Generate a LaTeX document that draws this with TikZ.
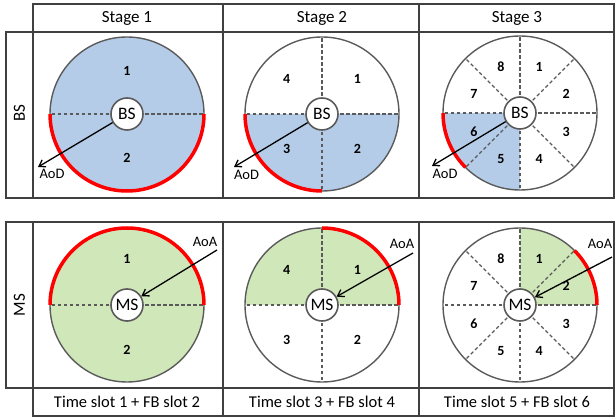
\documentclass[tikz,border=0pt]{standalone}
\usepackage{fontspec}
\setmainfont{Carlito}
\usetikzlibrary{arrows.meta,calc}
\definecolor{bsblue}{HTML}{B4CCE8}
\definecolor{msgreen}{HTML}{D0E7B9}
\definecolor{rimgray}{HTML}{5A5A5A}
\definecolor{gridgray}{HTML}{404040}
\tikzset{
  rim/.style={draw=rimgray, line width=1.4pt},
  sep/.style={draw=rimgray, line width=1.1pt, dash pattern=on 3.5pt off 2.5pt},
  hot/.style={draw=red, line width=3.5pt},
  hub/.style={circle, draw=rimgray, line width=1.6pt, fill=white, minimum size=32pt, inner sep=0pt, font=\fontsize{17.5}{17.5}\selectfont},
  num/.style={font=\bfseries\fontsize{14}{14}\selectfont},
  lbl/.style={font=\fontsize{14.5}{14.5}\selectfont},
  head/.style={font=\fontsize{17}{17}\selectfont},
  foot/.style={font=\fontsize{16.5}{16.5}\selectfont},
  ray/.style={line width=1.3pt, -{Straight Barb[length=6pt,width=8pt]}},
  grid/.style={draw=gridgray, line width=1.3pt},
}
\begin{document}
\begin{tikzpicture}[x=1pt,y=-1pt]
\useasboundingbox (0,0) rectangle (616,419);
% ---------- table grid ----------
\draw[grid] (33,4) rectangle (614,32);
\draw[grid] (6,32) rectangle (614,198);
\draw[grid] (33,32) -- (33,198);
\draw[grid] (223,4) -- (223,198);
\draw[grid] (419,4) -- (419,198);
\draw[grid] (6,222) rectangle (614,388);
\draw[grid] (33,388) rectangle (614,416);
\draw[grid] (33,222) -- (33,388);
\draw[grid] (223,222) -- (223,416);
\draw[grid] (419,222) -- (419,416);
% ---------- table texts ----------
\node[head] (h1) at (127,18) {Stage 1};
\node[head] (h2) at (322,18) {Stage 2};
\node[head] (h3) at (517,18) {Stage 3};
\node[head, rotate=90] (rbs) at (19.5,113) {BS};
\node[head, rotate=90] (rms) at (19.5,305) {MS};
\node[foot] (f1) at (127,402) {Time slot 1 + FB slot 2};
\node[foot] (f2) at (322,402) {Time slot 3 + FB slot 4};
\node[foot] (f3) at (517,402) {Time slot 5 + FB slot 6};
% ================= BS row =================
% Stage 1
\fill[bsblue] (127,114) circle[radius=77];
\draw[sep] (127,114) -- ++(180:77);
\draw[sep] (127,114) -- ++(0:77);
\draw[rim] (127,114) circle[radius=77];
\draw[hot] ($(127,114)+(180:77)$) arc[start angle=180, end angle=0, radius=77];
\node[num] (n11) at (127,71) {1};
\node[num] (n12) at (127,158) {2};
\node[hub] (bs1) at (127,114) {BS};
\coordinate (aod1) at (38,167);
\draw[ray] (bs1) -- (aod1);
\node[lbl] (laod1) at (52,174) {AoD};
% Stage 2
\fill[bsblue] (322,114) -- ++(180:77) arc[start angle=180, end angle=0, radius=77] -- cycle;
\foreach \a in {0,90,180,270} \draw[sep] (322,114) -- ++(\a:77);
\draw[rim] (322,114) circle[radius=77];
\draw[hot] ($(322,114)+(180:77)$) arc[start angle=180, end angle=90, radius=77];
\node[num] (n21) at ($(322,114)+(-45:50)$) {1};
\node[num] (n22) at ($(322,114)+(45:50)$) {2};
\node[num] (n23) at ($(322,114)+(135:50)$) {3};
\node[num] (n24) at ($(322,114)+(-135:50)$) {4};
\node[hub] (bs2) at (322,114) {BS};
\coordinate (aod2) at (234,167);
\draw[ray] (bs2) -- (aod2);
\node[lbl] (laod2) at (246.5,175) {AoD};
% Stage 3
\fill[bsblue] (520,113) -- ++(180:77) arc[start angle=180, end angle=90, radius=77] -- cycle;
\foreach \a in {0,45,...,315} \draw[sep] (520,113) -- ++(\a:77);
\draw[rim] (520,113) circle[radius=77];
\draw[hot] ($(520,113)+(180:77)$) arc[start angle=180, end angle=135, radius=77];
\foreach \k in {1,...,8} \node[num] (n3\k) at ($(520,113)+({45*(\k-1)-67.5}:50)$) {\k};
\node[hub] (bs3) at (520,113) {BS};
\coordinate (aod3) at (432,166);
\draw[ray] (bs3) -- (aod3);
\node[lbl] (laod3) at (445,174) {AoD};
% ================= MS row =================
% Stage 1
\fill[msgreen] (127,305) circle[radius=77];
\draw[sep] (127,305) -- ++(180:77);
\draw[sep] (127,305) -- ++(0:77);
\draw[rim] (127,305) circle[radius=77];
\draw[hot] ($(127,305)+(180:77)$) arc[start angle=180, end angle=360, radius=77];
\node[num] (m11) at (127,259) {1};
\node[num] (m12) at (127,350) {2};
\node[hub] (ms1) at (127,305) {MS};
\coordinate (aoa1) at (217,250);
\draw[ray] (aoa1) -- (ms1);
\node[lbl] (laoa1) at (205,242) {AoA};
% Stage 2
\fill[msgreen] (322,305) -- ++(180:77) arc[start angle=180, end angle=360, radius=77] -- cycle;
\foreach \a in {0,90,180,270} \draw[sep] (322,305) -- ++(\a:77);
\draw[rim] (322,305) circle[radius=77];
\draw[hot] ($(322,305)+(0:77)$) arc[start angle=0, end angle=-90, radius=77];
\node[num] (m21) at ($(322,305)+(-45:50)$) {1};
\node[num] (m22) at ($(322,305)+(45:50)$) {2};
\node[num] (m23) at ($(322,305)+(135:50)$) {3};
\node[num] (m24) at ($(322,305)+(-135:50)$) {4};
\node[hub] (ms2) at (322,305) {MS};
\coordinate (aoa2) at (413,253);
\draw[ray] (aoa2) -- (ms2);
\node[lbl] (laoa2) at (402,244) {AoA};
% Stage 3
\fill[msgreen] (520,305) -- ++(0:77) arc[start angle=0, end angle=-90, radius=77] -- cycle;
\foreach \a in {0,45,...,315} \draw[sep] (520,305) -- ++(\a:77);
\draw[rim] (520,305) circle[radius=77];
\draw[hot] ($(520,305)+(0:77)$) arc[start angle=0, end angle=-45, radius=77];
\foreach \k in {1,...,8} \node[num] (m3\k) at ($(520,305)+({45*(\k-1)-67.5}:50)$) {\k};
\node[hub] (ms3) at (520,305) {MS};
\coordinate (aoa3) at (612,257);
\draw[ray] (aoa3) -- (ms3);
\node[lbl] (laoa3) at (600,244) {AoA};
\end{tikzpicture}
\end{document}
